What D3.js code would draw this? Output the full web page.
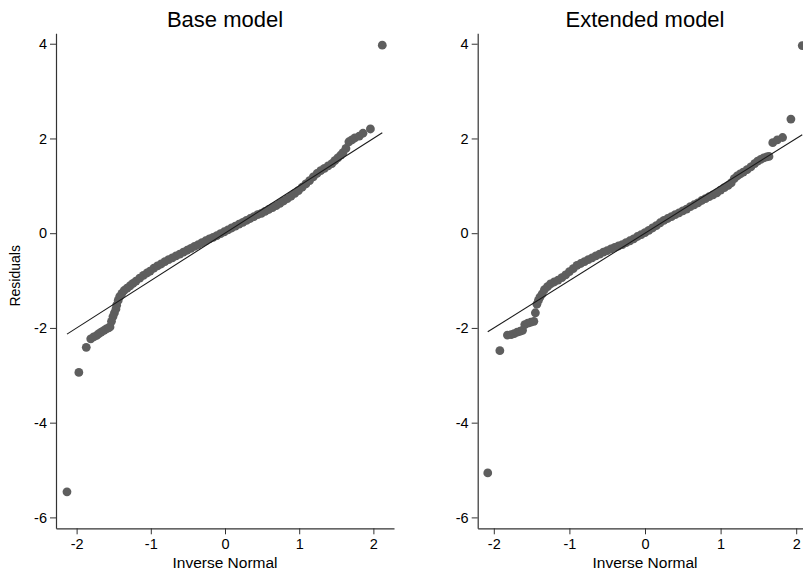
<!DOCTYPE html>
<html>
<head>
<meta charset="utf-8">
<script src="https://cdn.jsdelivr.net/npm/d3@7"></script>
<style>
  html, body { margin: 0; padding: 0; background: #fff; }
  svg { display: block; font-family: "Liberation Sans", Arial, Helvetica, sans-serif; }
</style>
</head>
<body>
<svg id="chart" width="803" height="573"></svg>
<script>
// ---- Data ----
const panelTitles = ["Base model", "Extended model"];
const yTickValues = [-6, -4, -2, 0, 2, 4];
const xTickValues = [-2, -1, 0, 1, 2];
const xAxisTitle = "Inverse Normal";
const yAxisTitle = "Residuals";

// Base model: inverse-normal quantile (x) vs sorted residual (y)
const baseX = [-2.13,-1.97,-1.87,-1.81,-1.77,-1.73,-1.70,-1.67,-1.63,-1.60,-1.57,-1.55,-1.53,-1.51,-1.49,-1.47,-1.46,-1.44,-1.42,-1.39,-1.36,-1.32,-1.28,-1.24,-1.20,-1.15,-1.10,-1.05,-1.01,-0.96,-0.91,-0.86,-0.81,-0.76,-0.71,-0.66,-0.61,-0.56,-0.51,-0.46,-0.41,-0.36,-0.31,-0.26,-0.21,-0.16,-0.11,-0.06,-0.01,0.04,0.09,0.14,0.19,0.24,0.29,0.34,0.39,0.44,0.49,0.54,0.59,0.64,0.69,0.74,0.79,0.84,0.89,0.94,0.99,1.04,1.09,1.14,1.19,1.24,1.29,1.34,1.39,1.44,1.48,1.52,1.56,1.59,1.63,1.67,1.71,1.75,1.81,1.86,1.96,2.12];
const baseY = [-5.46,-2.94,-2.41,-2.23,-2.19,-2.16,-2.12,-2.09,-2.05,-2.02,-2.00,-1.98,-1.86,-1.76,-1.68,-1.60,-1.52,-1.42,-1.34,-1.27,-1.21,-1.16,-1.11,-1.06,-1.01,-0.95,-0.89,-0.84,-0.80,-0.74,-0.69,-0.65,-0.60,-0.56,-0.52,-0.48,-0.44,-0.40,-0.36,-0.32,-0.28,-0.24,-0.20,-0.16,-0.12,-0.09,-0.05,-0.01,0.03,0.07,0.11,0.15,0.19,0.23,0.27,0.31,0.35,0.39,0.42,0.46,0.50,0.54,0.58,0.63,0.68,0.73,0.78,0.84,0.90,0.97,1.04,1.11,1.19,1.26,1.32,1.37,1.42,1.47,1.53,1.59,1.65,1.70,1.79,1.93,1.97,2.01,2.05,2.11,2.20,3.97];

// Extended model
const extX = [-2.08,-1.92,-1.82,-1.77,-1.73,-1.69,-1.65,-1.62,-1.59,-1.55,-1.51,-1.47,-1.45,-1.43,-1.41,-1.39,-1.36,-1.33,-1.29,-1.25,-1.20,-1.15,-1.10,-1.05,-1.00,-0.95,-0.90,-0.85,-0.80,-0.75,-0.70,-0.65,-0.60,-0.55,-0.50,-0.45,-0.40,-0.35,-0.30,-0.25,-0.20,-0.15,-0.10,-0.05,0.00,0.05,0.10,0.15,0.20,0.25,0.30,0.35,0.40,0.45,0.50,0.55,0.60,0.65,0.70,0.75,0.80,0.85,0.90,0.95,1.00,1.05,1.10,1.14,1.18,1.22,1.26,1.30,1.35,1.40,1.45,1.49,1.53,1.57,1.61,1.64,1.69,1.75,1.82,1.93,2.08];
const extY = [-5.06,-2.48,-2.15,-2.14,-2.12,-2.09,-2.07,-2.05,-1.93,-1.90,-1.88,-1.86,-1.68,-1.50,-1.42,-1.35,-1.28,-1.19,-1.13,-1.07,-1.03,-0.99,-0.94,-0.88,-0.81,-0.75,-0.68,-0.64,-0.60,-0.56,-0.52,-0.48,-0.44,-0.40,-0.37,-0.33,-0.30,-0.27,-0.24,-0.20,-0.16,-0.12,-0.07,-0.03,0.01,0.06,0.11,0.16,0.22,0.27,0.31,0.35,0.39,0.43,0.47,0.51,0.56,0.60,0.64,0.69,0.73,0.77,0.81,0.85,0.91,0.96,1.01,1.06,1.15,1.21,1.25,1.29,1.34,1.40,1.47,1.52,1.56,1.59,1.61,1.62,1.91,1.97,2.02,2.41,3.96];

const yDomain = [-6.23, 4.22];
const xDomains = [[-2.278, 2.278], [-2.213, 2.213]];

// ---- Layout ----
const svg = d3.select("#chart");
const plotTop = 33.3, plotBottom = 528.3;
const panels = [
  { title: panelTitles[0], xs: baseX, ys: baseY, xDomain: xDomains[0], range: [56, 394], yTitle: true },
  { title: panelTitles[1], xs: extX, ys: extY, xDomain: xDomains[1], range: [477.7, 812.3], yTitle: false }
];

const markerColor = "#5e5e5e";
const axisColor = "#333";

panels.forEach(p => {
  const x = d3.scaleLinear().domain(p.xDomain).range(p.range);
  const y = d3.scaleLinear().domain(yDomain).range([plotBottom, plotTop]);
  const g = svg.append("g");

  // points
  const pts = p.xs.map((v, i) => ({ x: v, y: p.ys[i] }));
  g.append("g").selectAll("circle").data(pts).join("circle")
    .attr("cx", d => x(d.x)).attr("cy", d => y(d.y)).attr("r", 4.4)
    .attr("fill", markerColor);

  // reference line y = x between extreme quantiles
  const lx0 = d3.min(p.xs), lx1 = d3.max(p.xs);
  g.append("line")
    .attr("x1", x(lx0)).attr("y1", y(lx0))
    .attr("x2", x(lx1)).attr("y2", y(lx1))
    .attr("stroke", "#1a1a1a").attr("stroke-width", 1.1);

  // axes
  const ya = g.append("g").attr("transform", `translate(${p.range[0]},0)`)
    .call(d3.axisLeft(y).tickValues(yTickValues).tickSize(6).tickPadding(3).tickSizeOuter(0)
      .tickFormat(d3.format("d")));
  const xa = g.append("g").attr("transform", `translate(0,${plotBottom})`)
    .call(d3.axisBottom(x).tickValues(xTickValues).tickSize(6).tickPadding(4).tickSizeOuter(0)
      .tickFormat(d3.format("d")));
  [ya, xa].forEach(a => {
    a.select(".domain").attr("stroke", axisColor).attr("stroke-width", 1.2);
    a.selectAll(".tick line").attr("stroke", axisColor);
    a.selectAll(".tick text").attr("fill", "#000").style("font-size", "14.5px")
      .style("font-family", '"Liberation Sans", Arial, sans-serif');
  });
  ya.selectAll(".tick text").text(d => d < 0 ? "-" + Math.abs(d) : d);
  xa.selectAll(".tick text").text(d => d < 0 ? "-" + Math.abs(d) : d);

  // titles
  const cx = x(0);
  g.append("text").attr("x", cx).attr("y", 26.5).attr("text-anchor", "middle")
    .style("font-size", "22px").attr("fill", "#000").text(p.title);
  g.append("text").attr("x", cx).attr("y", 568).attr("text-anchor", "middle")
    .style("font-size", "15.5px").attr("fill", "#000").text(xAxisTitle);
  if (p.yTitle) {
    g.append("text").attr("transform", `translate(20,${(plotTop + plotBottom) / 2 - 5}) rotate(-90)`)
      .attr("text-anchor", "middle").style("font-size", "14px").attr("fill", "#000").text(yAxisTitle);
  }
});
</script>
</body>
</html>
